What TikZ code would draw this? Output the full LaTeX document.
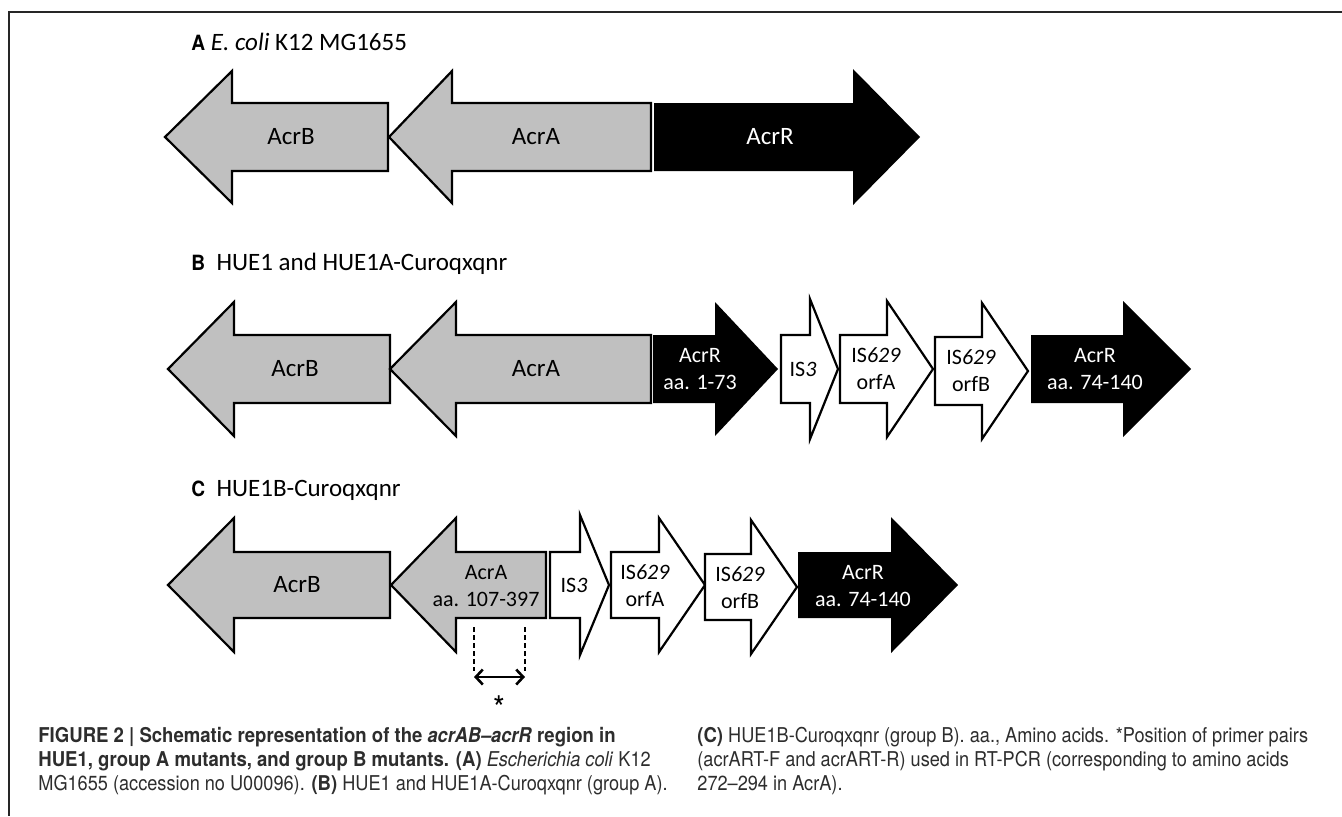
\documentclass[tikz,border=0pt]{standalone}
\usepackage{fontspec}
\setmainfont{Carlito}
\newfontfamily\capfont[FakeStretch=0.89,BoldFeatures={FakeStretch=0.91}]{TeX Gyre Heros}
\usetikzlibrary{arrows.meta}

\definecolor{acrgray}{RGB}{192,192,192}
\definecolor{captiongray}{RGB}{45,45,45}

% gene arrows: style, tip/start x, head x, end/tip x, centre y, shaft half, head half
\newcommand{\geneleft}[7]{%
  \draw[#1] (#2,#5) -- (#3,#5-#7) -- (#3,#5-#6) -- (#4,#5-#6) -- (#4,#5+#6)
    -- (#3,#5+#6) -- (#3,#5+#7) -- cycle;}
\newcommand{\generight}[7]{%
  \draw[#1] (#2,#5-#6) -- (#3,#5-#6) -- (#3,#5-#7) -- (#4,#5) -- (#3,#5+#7)
    -- (#3,#5+#6) -- (#2,#5+#6) -- cycle;}

\tikzset{
  genegray/.style={fill=acrgray,draw=black,line width=1.1pt,line join=miter},
  geneblack/.style={fill=black,draw=none},
  genewhite/.style={fill=white,draw=black,line width=1.1pt,line join=miter},
  genelabel/.style={inner sep=0pt,font=\fontsize{12.5}{14}\selectfont},
  twolabel/.style={inner sep=0pt,align=center,font=\fontsize{11}{13.5}\selectfont},
  rowtitle/.style={anchor=base west,inner sep=0pt,font=\fontsize{12.5}{15}\selectfont},
  captext/.style={anchor=base west,inner sep=0pt,align=left,text=captiongray,
    font=\capfont\fontsize{10.2}{11.8}\selectfont}
}
\newcommand{\rowletter}[1]{{\capfont\bfseries\fontsize{10.5}{12}\selectfont #1}}

\begin{document}
\begin{tikzpicture}[x=0.5pt,y=-0.5pt]
\useasboundingbox (0,0) rectangle (1342,816);

% frame
\draw[line width=1pt,black!85] (1342,12) -- (9,12) -- (9,816);

% row A
\node[rowtitle] (titleA) at (191,50) {\rowletter{A}\ \textit{E. coli} K12 MG1655};
\geneleft{genegray}{165}{232}{388}{137}{34}{66}
\geneleft{genegray}{389}{452}{651}{137}{34}{66}
\generight{geneblack}{654}{853}{920}{137}{34}{68}
\node[genelabel] (acrBa) at (291,137) {AcrB};
\node[genelabel] (acrAa) at (536,137) {AcrA};
\node[genelabel,text=white] (acrRa) at (770,137) {AcrR};

% row B
\node[rowtitle] (titleB) at (191,270) {\rowletter{B}\ \ HUE1 and HUE1A-Curoqxqnr};
\geneleft{genegray}{168}{234}{390}{369}{34}{67}
\geneleft{genegray}{390}{456}{651}{369}{34}{67}
\generight{geneblack}{653}{715}{778}{369}{34}{67}
\generight{genewhite}{781}{810}{838}{369}{34}{70}
\generight{genewhite}{840}{887}{933}{369}{34}{68}
\generight{genewhite}{935}{982}{1028}{371}{34}{68}
\generight{geneblack}{1031}{1123}{1191}{369}{34}{68}
\node[genelabel] (acrBb) at (295,369) {AcrB};
\node[genelabel] (acrAb) at (536,369) {AcrA};
\node[twolabel,text=white] (acrRb) at (700,369) {AcrR\\aa. 1-73};
\node[twolabel] (isthreeb) at (803,369) {IS\textit{3}};
\node[twolabel] (orfAb) at (876,369) {IS\textit{629}\\orfA};
\node[twolabel] (orfBb) at (971,371) {IS\textit{629}\\orfB};
\node[twolabel,text=white] (acrRlb) at (1095,369) {AcrR\\aa. 74-140};

% row C
\node[rowtitle] (titleC) at (191,496) {\rowletter{C}\ \ HUE1B-Curoqxqnr};
\geneleft{genegray}{168}{234}{390}{585}{33}{67}
\geneleft{genegray}{391}{456}{546}{585}{33}{67}
\generight{genewhite}{550}{580}{609}{585}{33}{70}
\generight{genewhite}{611}{659}{705}{585}{33}{67}
\generight{genewhite}{705}{751}{797}{587}{33}{67}
\generight{geneblack}{798}{891}{958}{585}{33}{68}
\node[genelabel] (acrBc) at (297,585) {AcrB};
\node[twolabel] (acrAc) at (486,586) {AcrA\\aa. 107-397};
\node[twolabel] (isthreec) at (574,585) {IS\textit{3}};
\node[twolabel] (orfAc) at (645,586) {IS\textit{629}\\orfA};
\node[twolabel] (orfBc) at (740,588) {IS\textit{629}\\orfB};
\node[twolabel,text=white] (acrRc) at (863,586) {AcrR\\aa. 74-140};

% primer position
\coordinate (primerlt) at (474,627);
\coordinate (primerrt) at (525,627);
\coordinate (primerl) at (474,677);
\coordinate (primerr) at (525,677);
\draw[line width=0.6pt,dash pattern=on 2.5pt off 1.5pt] (primerlt) -- ([yshift=3pt]primerl);
\draw[line width=0.6pt,dash pattern=on 2.5pt off 1.5pt] (primerrt) -- ([yshift=3pt]primerr);
\draw[line width=1.3pt,{Straight Barb[length=3.5pt,width=7.5pt]}-{Straight Barb[length=3.5pt,width=7.5pt]}] (primerl) -- (primerr);
\node[inner sep=0pt,font=\capfont\fontsize{17}{18}\selectfont] (star) at (499,708) {*};

% caption
\node[captext] (capleft) at (38,790) {{\bfseries FIGURE 2 | Schematic representation of the \textit{acrAB–acrR} region in}\\
  {\bfseries HUE1, group A mutants, and group B mutants. (A)} \textit{Escherichia coli} K12\\
  MG1655 (accession no U00096). {\bfseries (B)} HUE1 and HUE1A-Curoqxqnr (group A).};
\node[captext] (capright) at (697,790) {{\bfseries (C)} HUE1B-Curoqxqnr (group B). aa., Amino acids. *Position of primer pairs\\
  (acrART-F and acrART-R) used in RT-PCR (corresponding to amino acids\\
  272–294 in AcrA).};
\end{tikzpicture}
\end{document}
